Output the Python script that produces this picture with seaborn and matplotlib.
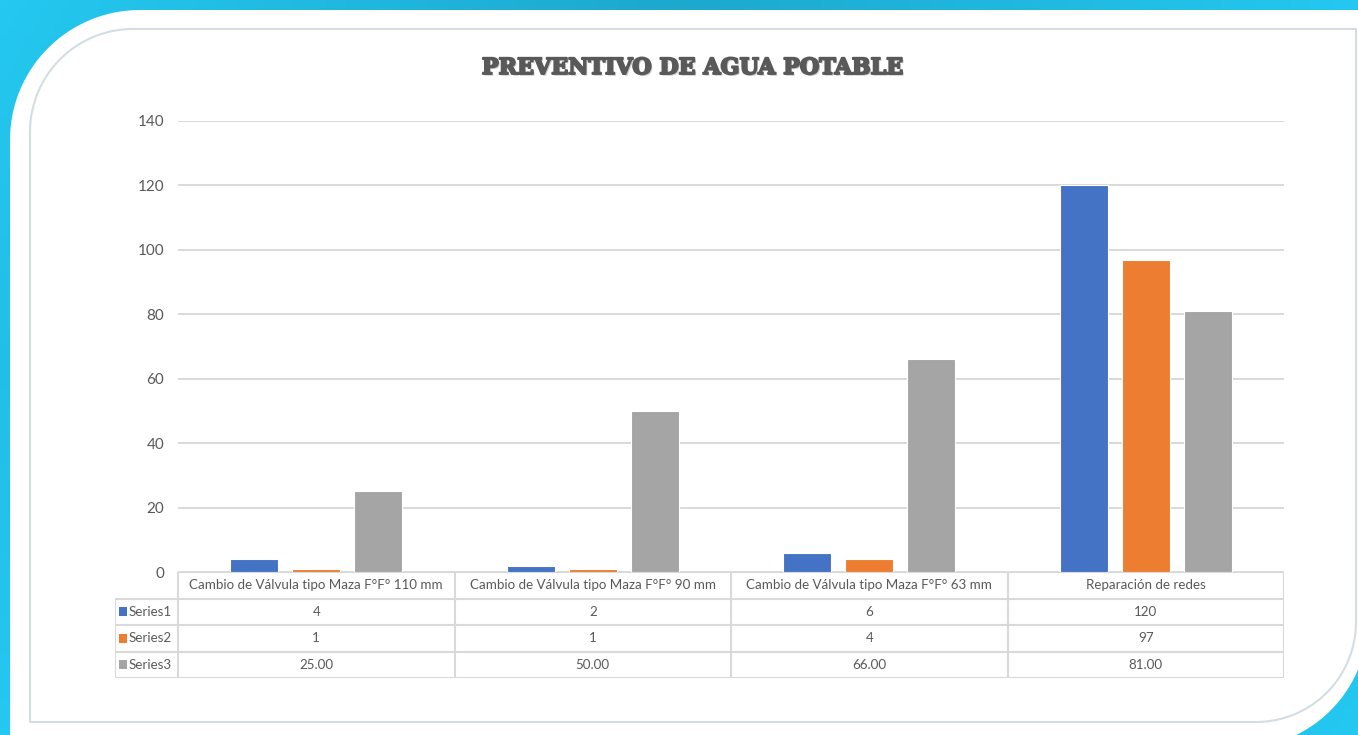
import numpy as np
import pandas as pd
import matplotlib
matplotlib.use("Agg")
import matplotlib.pyplot as plt
import matplotlib.patheffects as pe
from matplotlib.patches import Polygon, Rectangle
import seaborn as sns

categories = ["Cambio de Válvula tipo Maza F°F° 110 mm",
              "Cambio de Válvula tipo Maza F°F° 90 mm",
              "Cambio de Válvula tipo Maza F°F° 63 mm",
              "Reparación de redes"]
series_names = ["Series1", "Series2", "Series3"]
series1 = [4, 2, 6, 120]
series2 = [1, 1, 4, 97]
series3 = [25.00, 50.00, 66.00, 81.00]
yticks = [0, 20, 40, 60, 80, 100, 120, 140]
title = "PREVENTIVO DE AGUA POTABLE"

colors = {"Series1": "#4472C4", "Series2": "#ED7D31", "Series3": "#A5A5A5"}
txt = "#595959"
gridc = "#d9d9d9"

df = pd.DataFrame({
    "cat": categories * 3,
    "serie": [s for s in series_names for _ in categories],
    "val": series1 + series2 + series3,
})

sns.set_theme(style="white")
plt.rcParams['font.family'] = ['Lato', 'DejaVu Sans']

W, H = 1358, 735
fig = plt.figure(figsize=(W / 100, H / 100), dpi=100)
fig.patch.set_facecolor("white")


def ax_rect(x0, y0, x1, y1):
    return [x0 / W, 1 - y1 / H, (x1 - x0) / W, (y1 - y0) / H]


def rounded(x0, y0, x1, y1, r1, r2, n=40):
    pts = []
    t = np.linspace(np.pi, 1.5 * np.pi, n)
    pts += list(zip(x0 + r1 + r1 * np.cos(t), y0 + r1 + r1 * np.sin(t)))
    pts.append((x1, y0))
    t = np.linspace(0, 0.5 * np.pi, n)
    pts += list(zip(x1 - r2 + r2 * np.cos(t), y1 - r2 + r2 * np.sin(t)))
    pts.append((x0, y1))
    return np.array(pts)


# background decoration
bg = fig.add_axes([0, 0, 1, 1], zorder=-10)
bg.set_xlim(0, W)
bg.set_ylim(H, 0)
bg.axis("off")
gx, gy = np.meshgrid(np.linspace(0, 1, 200), np.linspace(0, 1, 100))
grad = np.abs(gx - 0.5) + 0.3 * np.abs(gy - 0.5)
bg.imshow(grad, extent=(0, W, H, 0), cmap=matplotlib.colors.LinearSegmentedColormap.from_list(
    "cy", ["#1b9fc4", "#24c8f0"]), aspect="auto", zorder=0)
bg.add_patch(Polygon(rounded(10, 10, 1368, 748, 130, 128), closed=True,
                     facecolor="white", edgecolor="none", zorder=1))
bg.add_patch(Polygon(rounded(30, 29, 1356, 722, 103, 100), closed=True,
                     facecolor="none", edgecolor="#d3dde2", lw=1.5, zorder=2))

# main chart
ax = fig.add_axes(ax_rect(178, 121, 1284, 572))
ax.set_facecolor("none")
sns.barplot(data=df, x="cat", y="val", hue="serie", order=categories,
            hue_order=series_names, palette=colors, saturation=1, width=0.673, gap=0.226,
            edgecolor="white", linewidth=0.8, legend=False, ax=ax, zorder=3)
ax.set_xlim(-0.5, 3.5)
ax.set_ylim(0, 140)
ax.set_yticks(yticks)
ax.set_yticklabels([str(v) for v in yticks], color=txt, fontsize=11)
ax.tick_params(axis="y", length=0, pad=10)
ax.set_xticks([])
ax.set_xlabel("")
ax.set_ylabel("")
ax.yaxis.grid(True, color=gridc, lw=1.4)
ax.set_axisbelow(True)
for s in ax.spines.values():
    s.set_visible(False)

fig.text(693 / W, 1 - 68 / H, title, ha="center", va="center", fontsize=16,
         fontweight="heavy", color=txt, family=["DejaVu Serif"],
         path_effects=[pe.withSimplePatchShadow(offset=(1.2, -1.2), shadow_rgbFace="#c8c8c8", alpha=1),
                       pe.withStroke(linewidth=1.4, foreground=txt)])

# data table
tab = fig.add_axes(ax_rect(115, 572, 1284, 678))
unit = 4 / 1106
xl = -0.5 - 63 * unit
tab.set_xlim(xl, 3.5)
tab.set_ylim(4, 0)
tab.axis("off")
lk = dict(color=gridc, lw=1.5)
tab.plot([-0.5, 3.5], [0, 0], **lk)
for r in range(1, 5):
    tab.plot([xl, 3.5], [r, r], **lk)
for c in range(5):
    tab.plot([c - 0.5, c - 0.5], [0, 4], **lk)
tab.plot([xl, xl], [1, 4], **lk)

fs = 9.6
for i, c in enumerate(categories):
    tab.text(i, 0.5, c, ha="center", va="center", fontsize=fs, color=txt)
rows = [[str(v) for v in series1], [str(v) for v in series2], [f"{v:.2f}" for v in series3]]
for r, (name, vals) in enumerate(zip(series_names, rows)):
    y = r + 1.5
    tab.add_patch(Rectangle((xl + 4 * unit, y - 0.17), 8 * unit, 0.34,
                            facecolor=colors[name], edgecolor="none"))
    tab.text(xl + 14 * unit, y, name, ha="left", va="center", fontsize=fs, color=txt)
    for i, v in enumerate(vals):
        tab.text(i, y, v, ha="center", va="center", fontsize=fs, color=txt)

fig.savefig("out.png", dpi=100)
